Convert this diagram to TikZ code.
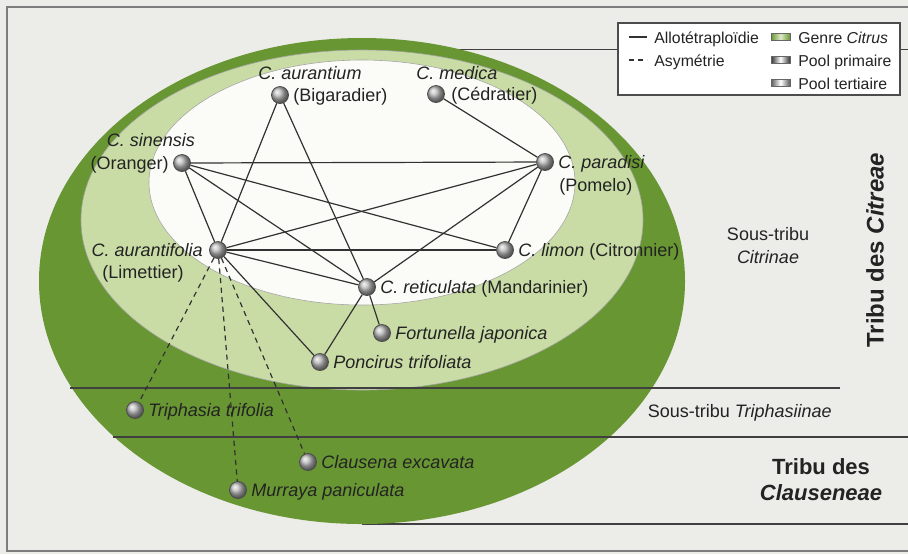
\documentclass[tikz,border=0pt]{standalone}
\usepackage{fontspec}
\setmainfont{Liberation Sans}
\usetikzlibrary{positioning}
\definecolor{bggray}{RGB}{236,236,233}
\definecolor{framegray}{RGB}{125,125,125}
\definecolor{darkgreen}{RGB}{104,150,50}
\definecolor{palegreen}{RGB}{201,220,166}
\definecolor{innerwhite}{RGB}{251,251,247}
\definecolor{linegray}{RGB}{50,50,50}
\definecolor{textgray}{RGB}{35,35,35}

\begin{document}
\begin{tikzpicture}[x=0.5pt,y=-0.5pt,
  every node/.style={inner sep=0pt, text=textgray, font=\fontsize{9}{11}\selectfont},
  sp/.style={circle, minimum size=8.5pt, draw=black!70, line width=0.4pt, ball color=gray!55},
  lbl/.style={text height=1.5ex, text depth=.3ex},
  cross/.style={draw=linegray, line width=0.6pt},
  asym/.style={draw=linegray, line width=0.6pt, dash pattern=on 2.6pt off 2.2pt},
  rule/.style={draw=black!75, line width=0.6pt},
  swatch/.style={draw=black!60, line width=0.3pt},
  keytext/.style={anchor=west, lbl, font=\fontsize{7.9}{9}\selectfont}]

\useasboundingbox (0,0) rectangle (908,554);
\fill[bggray] (0,0) rectangle (908,554);
\draw[framegray, line width=0.6pt] (908,7) -- (7,7) -- (7,551) -- (908,551);

% rules behind the ellipses
\draw[rule] (387,49.5) -- (908,49.5);
\draw[rule] (362,524) -- (908,524);

% tribes and sub-tribes
\fill[darkgreen] (362,281) ellipse [x radius=323, y radius=243];
\filldraw[fill=palegreen, draw=black!35, line width=0.3pt] (362,220) ellipse [x radius=281, y radius=170];
\filldraw[fill=innerwhite, draw=black!35, line width=0.3pt] (362,182.5) ellipse [x radius=213, y radius=122.5];

\draw[rule] (70,388) -- (840,388);
\draw[rule] (113,437) -- (908,437);

% species
\node[sp] (aurantium) at (280,95) {};
\node[sp] (medica) at (436,94) {};
\node[sp] (sinensis) at (182,163) {};
\node[sp] (paradisi) at (545,162) {};
\node[sp] (aurantifolia) at (218,250) {};
\node[sp] (limon) at (505,250) {};
\node[sp] (reticulata) at (367,287) {};
\node[sp] (fortunella) at (382,333) {};
\node[sp] (poncirus) at (320,362) {};
\node[sp] (triphasia) at (135,410) {};
\node[sp] (clausena) at (308,462) {};
\node[sp] (murraya) at (238,490) {};

% allotetraploidy
\draw[cross] (aurantium) -- (aurantifolia);
\draw[cross] (aurantium) -- (reticulata);
\draw[cross] (medica) -- (paradisi);
\draw[cross] (sinensis) -- (paradisi);
\draw[cross] (sinensis) -- (aurantifolia);
\draw[cross] (sinensis) -- (limon);
\draw[cross] (sinensis) -- (reticulata);
\draw[cross] (paradisi) -- (aurantifolia);
\draw[cross] (paradisi) -- (limon);
\draw[cross] (paradisi) -- (reticulata);
\draw[cross] (aurantifolia) -- (limon);
\draw[cross] (aurantifolia) -- (reticulata);
\draw[cross] (aurantifolia) -- (poncirus);
\draw[cross] (reticulata) -- (fortunella);
\draw[cross] (reticulata) -- (poncirus);

% asymmetry
\draw[asym] (aurantifolia) -- (triphasia);
\draw[asym] (aurantifolia) -- (murraya);
\draw[asym] (aurantifolia) -- (clausena);

% labels
\node[lbl] at (310,73) {\textit{C. aurantium}};
\node[lbl, right=2pt of aurantium] {(Bigaradier)};
\node[lbl] at (457,73) {\textit{C. medica}};
\node[lbl, right=3pt of medica] {(Cédratier)};
\node[lbl] at (151,140) {\textit{C. sinensis}};
\node[lbl, left=2pt of sinensis] {(Oranger)};
\node[lbl, right=2pt of paradisi] {\textit{C. paradisi}};
\node[lbl, anchor=west] at (559,185) {(Pomelo)};
\node[lbl, left=3pt of aurantifolia] {\textit{C. aurantifolia}};
\node[lbl] at (143,272) {(Limettier)};
\node[lbl, right=2pt of limon] {\textit{C. limon} (Citronnier)};
\node[lbl, right=2pt of reticulata] {\textit{C. reticulata} (Mandarinier)};
\node[lbl, right=2pt of fortunella] {\textit{Fortunella japonica}};
\node[lbl, right=2pt of poncirus] {\textit{Poncirus trifoliata}};
\node[lbl, right=2pt of triphasia] {\textit{Triphasia trifolia}};
\node[lbl, right=2pt of clausena] {\textit{Clausena excavata}};
\node[lbl, right=2pt of murraya] {\textit{Murraya paniculata}};

\node[align=center, font=\fontsize{9}{11.5}\selectfont] (citrinae) at (768,246) {Sous-tribu\\\textit{Citrinae}};
\node[lbl, anchor=east] (triphasiinae) at (832,411) {Sous-tribu \textit{Triphasiinae}};
\node[rotate=90, font=\bfseries\fontsize{12}{14}\selectfont] (citreae) at (875,250) {Tribu des \textit{Citreae}};
\node[align=center, font=\bfseries\fontsize{11}{13}\selectfont] (clauseneae) at (821,480) {Tribu des\\\textit{Clauseneae}};

% legend
\draw[black!70, fill=white, line width=0.6pt] (618,23) rectangle (900,95);
\draw[cross] (629,37) -- (647,37);
\node[keytext] (allo) at (654,37) {Allotétraploïdie};
\draw[asym, dash pattern=on 2.5pt off 2pt] (629,60) -- (647,60);
\node[keytext] (asymetrie) at (654,60) {Asymétrie};
\shade[swatch, left color=darkgreen, right color=darkgreen, middle color=palegreen!60] (771,33.5) rectangle (790,40.5);
\node[keytext] (genre) at (798,37) {Genre \textit{Citrus}};
\shade[swatch, left color=black!80, right color=black!80, middle color=white] (771,56.5) rectangle (790,63.5);
\node[keytext] (primaire) at (798,60) {Pool primaire};
\shade[swatch, left color=black!65, right color=black!65, middle color=white] (771,79.5) rectangle (790,86.5);
\node[keytext] (tertiaire) at (798,83) {Pool tertiaire};
\end{tikzpicture}
\end{document}
